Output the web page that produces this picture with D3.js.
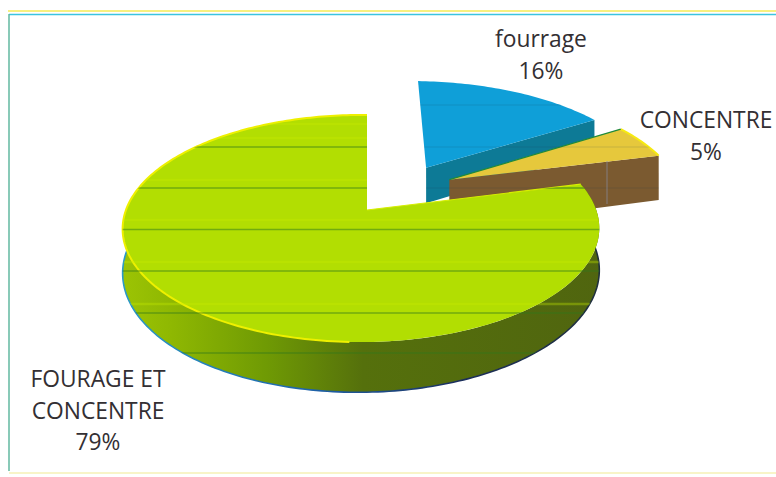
<!DOCTYPE html>
<html><head><meta charset="utf-8">
<script src="https://cdn.jsdelivr.net/npm/d3@7/dist/d3.min.js"></script>
<style>html,body{margin:0;padding:0;background:#fff}svg{display:block}</style>
</head><body><svg id="c" width="776" height="477"></svg>
<script>
const categories = ["fourrage", "CONCENTRE", "FOURAGE ET CONCENTRE"];
const values = [16, 5, 79];
const labelLines = [["fourrage","16%"],["CONCENTRE","5%"],["FOURAGE ET","CONCENTRE","79%"]];
const explodeX = [0.27, 0.37, 0];
const explodeY = [0.41, 0.29, 0];
const radii = [1.04, 1.06, 1];
const depths = [38, 50, 42];
const topColors = ["#0f9fd8", "#e6c83c", "#b2de02"];
const wallColors = ["#0d7a96", "#7b5a30", "#55690f"];
const labelX = [541, 706, 98];
const labelY = [47, 128, 387];

const W = 776, H = 477;
const svg = d3.select("#c");
const apexX = 367, apexY = 210, Rx = 235, Ry = 110.5, kY = 0.163, kX = 0.025;
function proj(X, Y, z) {
  const w = 1 + kY * Y + kX * X;
  return [apexX + Rx * X / w, apexY - Ry * Y / w + z / w];
}
const pie = d3.pie().sort(null).value(d => d);
const arcs = pie(values);
const line = d3.line();

function rim(i, a0, a1, z) {
  const n = Math.max(1, Math.round(Math.abs(a1 - a0) / 0.02));
  return d3.range(n + 1).map(j => {
    const a = a0 + (a1 - a0) * j / n;
    return proj(explodeX[i] + radii[i] * Math.sin(a), explodeY[i] + radii[i] * Math.cos(a), z);
  });
}
const defs = svg.append("defs");
function hGrad(id, stops) {
  const g = defs.append("linearGradient").attr("id", id).attr("gradientUnits", "userSpaceOnUse")
    .attr("x1", 122).attr("x2", 604).attr("y1", 0).attr("y2", 0);
  stops.forEach(s => g.append("stop").attr("offset", s[0]).attr("stop-color", s[1]));
}
hGrad("wall", [[0,"#9cc404"],[0.1,"#8fb802"],[0.3,"#6f9a04"],[0.5,"#55700c"],[1,"#50650f"]]);
hGrad("base", [[0,"#2a9ac8"],[0.4,"#1f62a8"],[0.7,"#1c2f5c"],[1,"#20303c"]]);
const cpAll = defs.append("clipPath").attr("id", "pieClip");
const cpGreen = defs.append("clipPath").attr("id", "greenClip");

function drawSlice(i) {
  const a = arcs[i], d = depths[i];
  const apex = proj(explodeX[i], explodeY[i], 0);
  const apexB = proj(explodeX[i], explodeY[i], d);
  const topPts = [apex].concat(rim(i, a.startAngle, a.endAngle, 0));
  const group = svg.append("g");
  if (i === 2) {
    const front = rim(i, a.startAngle, Math.PI * 1.6, 0).concat(rim(i, Math.PI * 1.6, a.startAngle, d));
    group.append("path").attr("d", line(front) + "Z").attr("fill", "url(#wall)");
    cpAll.append("path").attr("d", line(front) + "Z");
    cpGreen.append("path").attr("d", line(front) + "Z");
    cpGreen.append("path").attr("d", line(topPts) + "Z");
    group.append("path").attr("d", line(rim(i, a.startAngle, Math.PI * 1.6, d)))
      .attr("fill", "none").attr("stroke", "url(#base)").attr("stroke-width", 1.6);
  } else {
    const c = rim(i, a.endAngle, a.endAngle, 0)[0], cB = rim(i, a.endAngle, a.endAngle, d)[0];
    const wall = [apex, c, cB, apexB];
    group.append("path").attr("d", line(wall) + "Z").attr("fill", wallColors[i]);
    cpAll.append("path").attr("d", line(wall) + "Z");
  }
  group.append("path").attr("d", line(topPts) + "Z").attr("fill", topColors[i]);
  cpAll.append("path").attr("d", line(topPts) + "Z");
  if (i === 1) {
    group.append("path").attr("d", line(rim(i, a.startAngle, a.endAngle, 0)))
      .attr("fill", "none").attr("stroke", "#f6ea10").attr("stroke-width", 2);
    group.append("path").attr("d", line([apex, rim(i, a.startAngle, a.startAngle, 0)[0]]))
      .attr("stroke", "#1f8a3c").attr("stroke-width", 1.2).attr("fill", "none");
  }
  if (i === 2) {
    group.append("path").attr("d", line(rim(i, Math.PI * 1.02, Math.PI * 2, 0)))
      .attr("fill", "none").attr("stroke", "#eef000").attr("stroke-width", 2);
    group.append("path").attr("d", line([apex, rim(i, a.startAngle, a.startAngle, 0)[0]]))
      .attr("stroke", "#d6ee00").attr("stroke-width", 1.2).attr("fill", "none");
  }
}
drawSlice(0); drawSlice(1); drawSlice(2);

// scan lines of the photocopied original
const scanLines = [147, 188, 229.5, 271, 313, 353];
const scanBands = [124, 138, 180, 220, 262, 304];
const clipGreen = svg.append("g").attr("clip-path", "url(#greenClip)");
clipGreen.selectAll("line.b").data(scanBands).join("line").attr("class", "b")
  .attr("x1", 100).attr("x2", 680).attr("y1", d => d).attr("y2", d => d)
  .attr("stroke", "#c6ea00").attr("stroke-opacity", 0.35).attr("stroke-width", 2.5);
clipGreen.selectAll("line.s").data(scanLines).join("line").attr("class", "s")
  .attr("x1", 100).attr("x2", 680).attr("y1", d => d).attr("y2", d => d)
  .attr("stroke", "#2f7a1c").attr("stroke-opacity", 0.5).attr("stroke-width", 1.4);
const clipAll = svg.append("g").attr("clip-path", "url(#pieClip)");
clipAll.selectAll("line").data([105, 147, 188]).join("line")
  .attr("x1", 415).attr("x2", 680).attr("y1", d => d).attr("y2", d => d)
  .attr("stroke", "#1a3a50").attr("stroke-opacity", 0.15).attr("stroke-width", 1.2);
clipAll.append("line").attr("x1", 607).attr("x2", 607).attr("y1", 161).attr("y2", 204)
  .attr("stroke", "#8a8a9a").attr("stroke-opacity", 0.5).attr("stroke-width", 1.5);

// frame
const frame = svg.append("g").attr("fill", "none");
frame.append("line").attr("x1", 8).attr("x2", W).attr("y1", 11).attr("y2", 11).attr("stroke", "#f8f080").attr("stroke-width", 2);
frame.append("line").attr("x1", 9).attr("x2", W).attr("y1", 14.5).attr("y2", 14.5).attr("stroke", "#3cc4e0").attr("stroke-width", 1.5);
frame.append("line").attr("x1", 9).attr("x2", 9).attr("y1", 14).attr("y2", H - 6).attr("stroke", "#62b8a0").attr("stroke-width", 1.5);
frame.append("line").attr("x1", 9).attr("x2", W).attr("y1", H - 4).attr("y2", H - 4).attr("stroke", "#f8f4c8").attr("stroke-width", 2);

// labels
const labels = svg.append("g").attr("font-family", "'Open Sans', sans-serif").attr("font-size", 22.8)
  .attr("fill", "#332f33").attr("text-anchor", "middle");
categories.forEach((c, i) => {
  const t = labels.append("text").attr("x", labelX[i]).attr("y", labelY[i]);
  labelLines[i].forEach((s, j) => t.append("tspan").attr("x", labelX[i]).attr("dy", j ? 31.5 : 0).text(s));
});
</script></body></html>
